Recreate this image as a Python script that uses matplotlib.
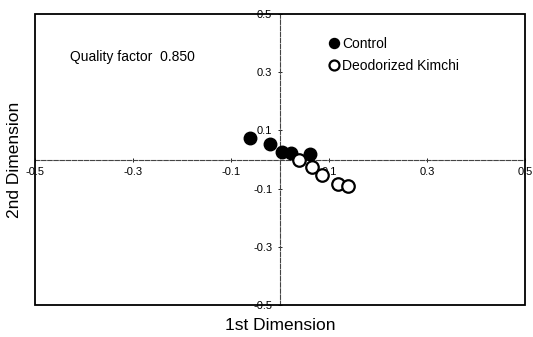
import matplotlib
matplotlib.use("Agg")
import matplotlib.pyplot as plt
from matplotlib.patches import Rectangle

plt.rcParams['font.family'] = ['Liberation Sans', 'DejaVu Sans']

control_x = [-0.061, -0.020, 0.004, 0.022, 0.061]
control_y = [0.075, 0.054, 0.027, 0.024, 0.018]
deodor_x = [0.039, 0.065, 0.085, 0.118, 0.138]
deodor_y = [0.000, -0.027, -0.054, -0.085, -0.092]
ticks = [-0.5, -0.3, -0.1, 0.1, 0.3, 0.5]
tick_labels = ["-0.5", "-0.3", "-0.1", "0.1", "0.3", "0.5"]

fig = plt.figure(figsize=(5.33, 3.37), dpi=100)
ax = fig.add_axes([35/533, 32/337, 490/533, 291/337])
ax.set_xlim(-0.5, 0.5)
ax.set_ylim(-0.5, 0.5)

for s in ['top', 'right']:
    ax.spines[s].set_visible(False)
ax.spines['left'].set_position(('data', 0))
ax.spines['bottom'].set_position(('data', 0))
for s in ['left', 'bottom']:
    ax.spines[s].set_linestyle((0, (4, 1.5)))
    ax.spines[s].set_linewidth(0.8)
    ax.spines[s].set_color('#444444')

ax.add_patch(Rectangle((0, 0), 1, 1, transform=ax.transAxes, fill=False,
                       edgecolor='black', linewidth=1.3, clip_on=False, zorder=5))

ax.set_xticks(ticks)
ax.set_xticklabels(tick_labels)
ax.set_yticks(ticks)
ax.set_yticklabels(tick_labels)
ax.tick_params(axis='both', direction='inout', length=3, width=0.6, labelsize=8, pad=4)

ax.plot(control_x, control_y, 'o', color='black', markersize=9, zorder=3, label='Control')
ax.plot(deodor_x, deodor_y, 'o', markerfacecolor='white', markeredgecolor='black',
        markeredgewidth=1.6, markersize=9, zorder=4, label='Deodorized Kimchi')

leg = ax.legend(loc='upper left', bbox_to_anchor=(0.595, 0.92), frameon=False,
                fontsize=10, handletextpad=0.0, handlelength=1.1, labelspacing=0.55,
                borderpad=0, borderaxespad=0, markerscale=0.8)

ax.text(0.072, 0.852, "Quality factor  0.850", transform=ax.transAxes,
        fontsize=10, ha='left', va='center')

fig.text(280/533, 1 - 326/337, "1st Dimension", fontsize=12.5, ha='center', va='center')
fig.text(15/533, 1 - 160/337, "2nd Dimension", fontsize=12.5, ha='center', va='center',
         rotation=90)

fig.savefig("out.png", dpi=100)
